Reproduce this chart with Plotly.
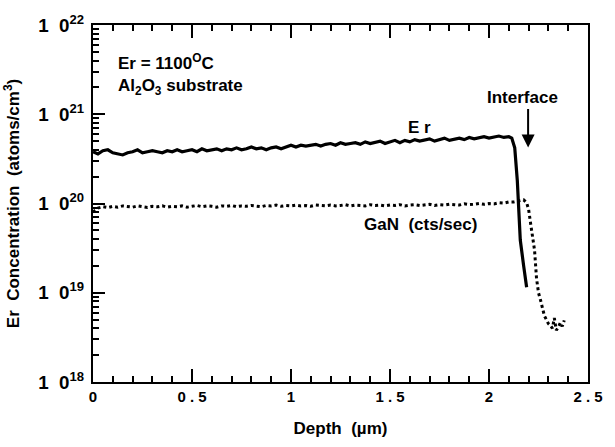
import plotly.graph_objects as go

# Depth (um) for the plateau region (shared by both series)
depth_plateau = [0.000, 0.025, 0.050, 0.075, 0.100, 0.125, 0.150, 0.175, 0.200, 0.225,
                 0.250, 0.275, 0.300, 0.325, 0.350, 0.375, 0.400, 0.425, 0.450, 0.475,
                 0.500, 0.525, 0.550, 0.575, 0.600, 0.625, 0.650, 0.675, 0.700, 0.725,
                 0.750, 0.775, 0.800, 0.825, 0.850, 0.875, 0.900, 0.925, 0.950, 0.975,
                 1.000, 1.025, 1.050, 1.075, 1.100, 1.125, 1.150, 1.175, 1.200, 1.225,
                 1.250, 1.275, 1.300, 1.325, 1.350, 1.375, 1.400, 1.425, 1.450, 1.475,
                 1.500, 1.525, 1.550, 1.575, 1.600, 1.625, 1.650, 1.675, 1.700, 1.725,
                 1.750, 1.775, 1.800, 1.825, 1.850, 1.875, 1.900, 1.925, 1.950, 1.975,
                 2.000, 2.025, 2.050, 2.075, 2.100]

# Er concentration, units of 1e20 atoms/cm^3
er_plateau = [3.8, 3.6, 3.9, 4.0, 3.7, 3.6, 3.5, 3.7, 3.8, 4.0,
              3.7, 3.8, 3.9, 3.8, 3.7, 3.9, 3.8, 4.0, 3.8, 3.9,
              4.0, 3.8, 4.1, 3.9, 4.0, 4.1, 3.9, 4.1, 4.0, 4.2,
              4.0, 4.1, 4.3, 4.1, 4.2, 4.0, 4.2, 4.3, 4.1, 4.3,
              4.5, 4.3, 4.5, 4.4, 4.5, 4.6, 4.4, 4.6, 4.7, 4.5,
              4.8, 4.6, 4.7, 4.8, 4.6, 4.9, 4.7, 4.8, 5.0, 4.7,
              4.9, 5.1, 4.8, 5.1, 4.9, 5.2, 5.0, 5.1, 5.3, 5.0,
              5.2, 5.4, 5.1, 5.3, 5.4, 5.2, 5.5, 5.3, 5.4, 5.6,
              5.4, 5.5, 5.7, 5.5, 5.6]
depth_er_tail = [2.115, 2.130, 2.143, 2.158, 2.175, 2.190]
er_tail = [5.4, 4.2, 1.8, 0.39, 0.2, 0.115]

# GaN signal (cts/sec), plotted on the same scale, units of 1e20
gan_plateau = [0.80, 0.89, 0.92, 0.90, 0.93, 0.91, 0.94, 0.92, 0.91, 0.94,
               0.92, 0.90, 0.93, 0.92, 0.94, 0.91, 0.93, 0.92, 0.94, 0.91,
               0.93, 0.95, 0.92, 0.94, 0.93, 0.91, 0.94, 0.93, 0.95, 0.92,
               0.94, 0.93, 0.95, 0.94, 0.92, 0.95, 0.94, 0.96, 0.93, 0.95,
               0.94, 0.96, 0.94, 0.95, 0.93, 0.96, 0.95, 0.94, 0.96, 0.94,
               0.95, 0.97, 0.94, 0.96, 0.95, 0.94, 0.97, 0.95, 0.96, 0.94,
               0.96, 0.95, 0.97, 0.94, 0.96, 0.97, 0.95, 0.96, 0.98, 0.95,
               0.97, 0.96, 0.98, 0.97, 0.96, 0.99, 0.97, 0.98, 1.00, 0.98,
               1.00, 0.99, 1.02, 1.01, 1.04]
depth_gan_tail = [2.125, 2.150, 2.175, 2.190, 2.200, 2.210, 2.220, 2.230, 2.240, 2.250,
                  2.260, 2.270, 2.280, 2.290, 2.300, 2.310, 2.320, 2.330, 2.340, 2.350,
                  2.360, 2.370, 2.380]
gan_tail = [1.04, 1.06, 1.10, 1.02, 0.86, 0.60, 0.42, 0.30, 0.145, 0.10,
            0.083, 0.065, 0.055, 0.050, 0.045, 0.043, 0.040, 0.052, 0.038, 0.041,
            0.046, 0.042, 0.049]

scale = 1e20
er_x = depth_plateau + depth_er_tail
er_y = [v * scale for v in er_plateau + er_tail]
gan_x = depth_plateau + depth_gan_tail
gan_y = [v * scale for v in gan_plateau + gan_tail]

NB = "\u00a0"
x_ticks = [0, 0.5, 1, 1.5, 2, 2.5]
x_ticktext = ["0", f"0{NB}.{NB}5", "1", f"1{NB}.{NB}5", "2", f"2{NB}.{NB}5"]
y_exponents = [18, 19, 20, 21, 22]
y_alias = {}
for e in y_exponents:
    y_alias[f"10<sup>{e}</sup>"] = f"1{NB}{NB}0<sup>{e}</sup>"

FONT = "Liberation Sans"

fig = go.Figure()
fig.add_trace(go.Scatter(x=gan_x, y=gan_y, mode="lines",
                         line=dict(color="black", width=3, dash="dot"),
                         showlegend=False))
fig.add_trace(go.Scatter(x=er_x, y=er_y, mode="lines",
                         line=dict(color="black", width=3.2),
                         showlegend=False))

fig.update_layout(
    width=615, height=447,
    margin=dict(l=93, r=18, t=19, b=61),
    paper_bgcolor="white", plot_bgcolor="white",
    font=dict(family=FONT, color="black", size=14, weight="bold"),
)
fig.update_xaxes(
    range=[0, 2.5], tickvals=x_ticks, ticktext=x_ticktext,
    ticks="inside", ticklen=13, tickwidth=2, tickcolor="black",
    minor=dict(dtick=0.1, ticks="inside", ticklen=6, tickwidth=1.6, tickcolor="black"),
    showline=True, linecolor="black", linewidth=2, mirror="ticks",
    showgrid=False, zeroline=False,
    tickfont=dict(size=15, family=FONT, weight="bold"),
    title=dict(text=f"Depth{NB}{NB}(µm)", font=dict(size=17, family=FONT, weight="bold"), standoff=18),
)
fig.update_yaxes(
    type="log", range=[18, 22], tickmode="linear", tick0=0, dtick=1,
    exponentformat="power", showexponent="all", labelalias=y_alias,
    ticks="inside", ticklen=12, tickwidth=2, tickcolor="black",
    ticklabelstandoff=4,
    minor=dict(dtick="D1", ticks="inside", ticklen=6, tickwidth=1.6,
               tickcolor="black", showgrid=False),
    showline=True, linecolor="black", linewidth=2, mirror=True,
    showgrid=False, zeroline=False,
    tickfont=dict(size=15, family=FONT, weight="bold"),
    title=dict(text=f"Er{NB}{NB}Concentration{NB}{NB}(atoms/cm<sup>3</sup>)",
               font=dict(size=17, family=FONT, weight="bold"), standoff=14),
)

ann = [
    dict(text="Er = 1100<sup>O</sup>C", x=0.046, y=0.897, xanchor="left", yanchor="middle", font_size=17),
    dict(text="Al<sub>2</sub>O<sub>3</sub> substrate", x=0.046, y=0.826, xanchor="left", yanchor="middle", font_size=17),
    dict(text=f"E{NB}r", x=0.659, y=0.714, xanchor="center", yanchor="middle", font_size=17),
    dict(text=f"GaN{NB}{NB}(cts/sec)", x=0.662, y=0.442, xanchor="center", yanchor="middle", font_size=17),
    dict(text="Interface", x=0.867, y=0.798, xanchor="center", yanchor="middle", font_size=17),
]
for a in ann:
    fig.add_annotation(xref="paper", yref="paper", showarrow=False, **a)

fig.add_annotation(xref="paper", yref="paper", x=0.879, y=0.657,
                   ax=0, ay=-40, axref="pixel", ayref="pixel",
                   showarrow=True, arrowhead=2, arrowsize=1.3, arrowwidth=2,
                   arrowcolor="black", text="")

fig.write_html("out.html", post_script="document.body.style.margin='0';",
               config={"displayModeBar": False})
